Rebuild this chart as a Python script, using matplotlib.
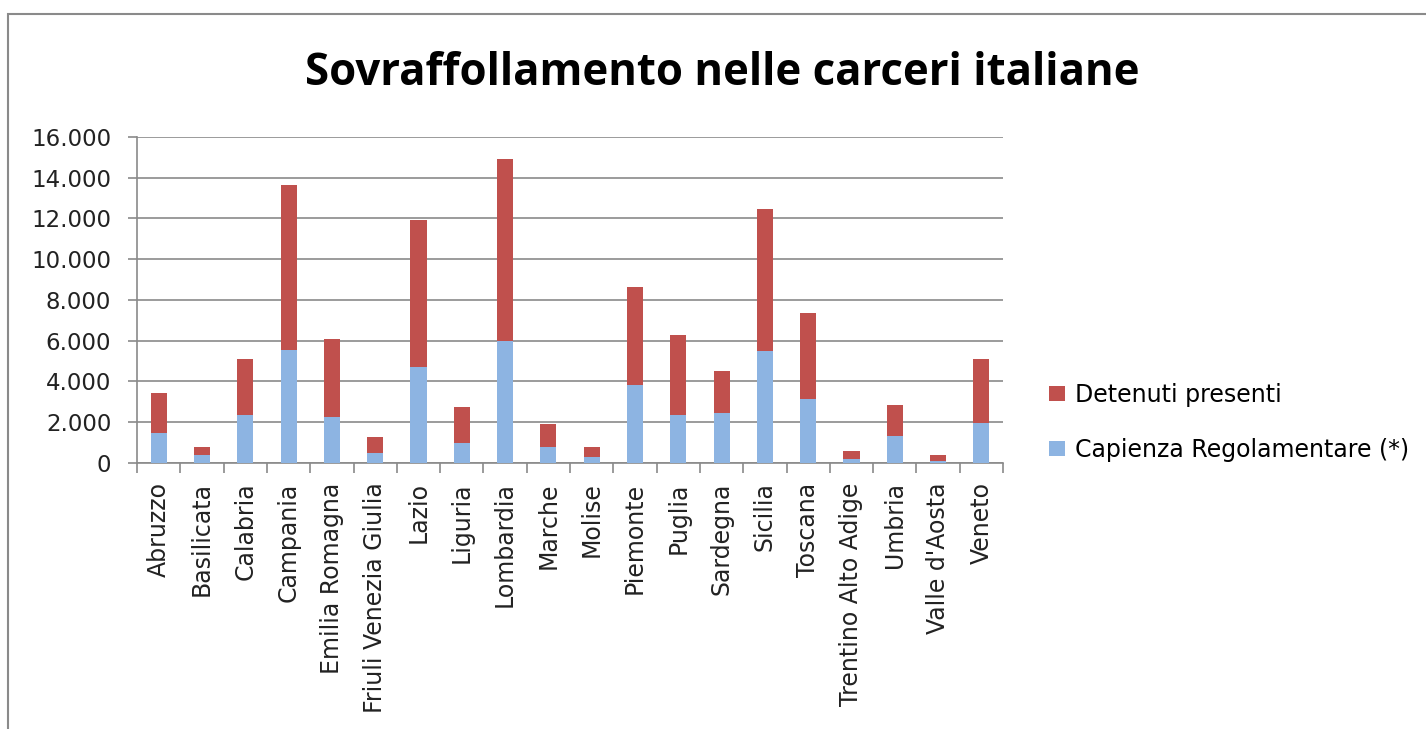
import matplotlib
matplotlib.use('agg')
import matplotlib.pyplot as plt
import numpy as np
from matplotlib.patches import Rectangle

regioni = ['Abruzzo', 'Basilicata', 'Calabria', 'Campania', 'Emilia Romagna',
           'Friuli Venezia Giulia', 'Lazio', 'Liguria', 'Lombardia', 'Marche',
           'Molise', 'Piemonte', 'Puglia', 'Sardegna', 'Sicilia', 'Toscana',
           'Trentino Alto Adige', 'Umbria', "Valle d'Aosta", 'Veneto']
capienza = [1490, 410, 2370, 5530, 2270, 510, 4710, 1000, 5990, 790,
            300, 3850, 2370, 2470, 5500, 3160, 200, 1310, 100, 1980]
detenuti = [1950, 380, 2750, 8130, 3810, 770, 7230, 1750, 8950, 1110,
            490, 4790, 3910, 2050, 6980, 4200, 370, 1540, 290, 3120]

col_det = '#C0504D'
col_cap = '#8DB4E2'
grigio = '#8a8a8a'

fig = plt.figure(figsize=(14.26, 7.29), dpi=100)
ax = fig.add_axes([0.0961, 0.3649, 0.6073, 0.4472])

x = np.arange(len(regioni))
b1 = ax.bar(x, capienza, width=0.37, color=col_cap, zorder=3,
            label='Capienza Regolamentare (*)')
b2 = ax.bar(x, detenuti, width=0.37, bottom=capienza, color=col_det, zorder=3,
            label='Detenuti presenti')

ax.set_xlim(-0.5, len(regioni) - 0.5)
ax.set_ylim(0, 16000)
ax.set_yticks(np.arange(0, 16001, 2000))
ax.set_yticklabels(['0' if v == 0 else f'{v // 1000}.000' for v in range(0, 16001, 2000)],
                   fontsize=16.5, color='#222222')
ax.yaxis.grid(True, color=grigio, linewidth=1.2, zorder=0)
ax.tick_params(axis='y', length=6.5, color=grigio, width=1.2, pad=12)

ax.set_xticks(x)
ax.set_xticklabels(regioni, rotation=90, fontsize=17, color='#222222')
ax.tick_params(axis='x', which='major', length=0, pad=14)
ax.set_xticks(np.arange(-0.5, len(regioni), 1), minor=True)
ax.tick_params(axis='x', which='minor', length=7, width=1.2, color=grigio)

for s in ['top', 'right']:
    ax.spines[s].set_visible(False)
for s in ['left', 'bottom']:
    ax.spines[s].set_color(grigio)
    ax.spines[s].set_linewidth(1.2)

fig.legend([b2, b1], ['Detenuti presenti', 'Capienza Regolamentare (*)'],
           loc='upper left', bbox_to_anchor=(0.7356, 0.475), frameon=False,
           prop={'size': 17}, handlelength=0.68, handleheight=0.6,
           handletextpad=0.42, labelspacing=1.32, borderpad=0, borderaxespad=0)

fig.text(0.5067, 1 - 85 / 729, 'Sovraffollamento nelle carceri italiane',
         ha='center', va='baseline', fontsize=31.5, fontweight='bold',
         family='Open Sans')

fig.patches.append(Rectangle((8 / 1426, -0.05), 1.1, 0.05 + (729 - 14) / 729,
                             transform=fig.transFigure, fill=False,
                             edgecolor=grigio, linewidth=1.5))

fig.savefig('out.png', dpi=100)
